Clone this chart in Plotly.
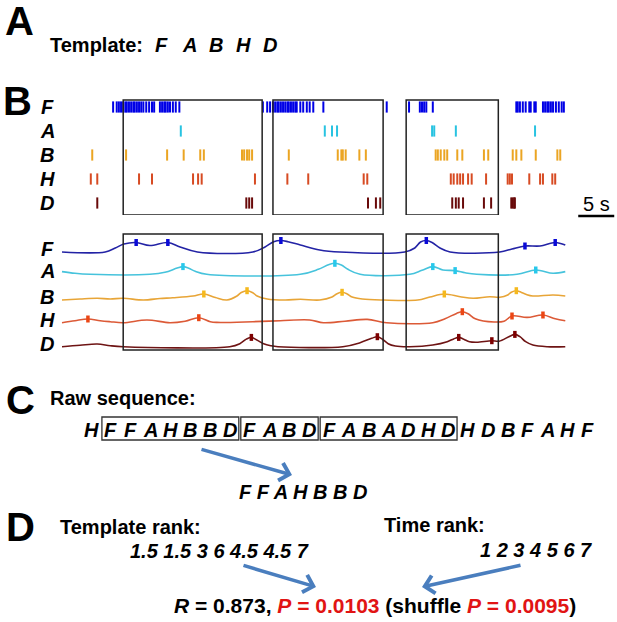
import plotly.graph_objects as go

W, H = 617, 622

# ---------------- data ----------------
neurons = ["F", "A", "B", "H", "D"]
template = ["F", "A", "B", "H", "D"]

# spike times (s)
spikes_F = [7.1, 7.6, 7.9, 8.2, 8.5, 8.8, 9.0, 9.3, 9.6, 9.9, 10.1, 10.4, 10.7, 11.0, 11.3, 11.7, 12.1,
            12.5, 12.8, 13.6, 13.9, 14.2, 14.4, 14.7, 15.0, 15.4, 15.8, 16.3,
            27.9, 28.5, 28.9, 29.3, 29.6, 29.9, 30.1, 30.4, 30.7, 31.0, 31.3, 31.5, 31.8, 32.1, 32.4,
            32.6, 33.1, 33.5, 34.0, 34.4, 34.9, 36.3,
            45.1, 48.2, 49.7, 50.0, 50.3, 50.6, 51.5,
            63.1, 63.3, 63.6, 64.0, 64.4, 64.9, 65.1, 65.6, 65.8, 66.8, 67.1, 67.4, 67.6, 67.9, 68.2,
            68.6, 69.0, 69.4, 69.7]
spikes_A = [16.5, 36.5, 37.5, 38.2, 51.4, 51.7, 54.7, 65.7]
spikes_B = [4.2, 8.9, 14.6, 16.9, 19.2, 19.7, 25.0, 25.3, 25.7, 26.0, 26.4, 31.5, 38.3, 38.8, 39.0, 39.4,
            41.3, 42.2, 51.9, 52.2, 52.6, 53.1, 53.5, 54.9, 55.6, 58.6, 59.2, 62.6, 63.1, 63.8, 65.8,
            68.8, 69.2]
spikes_H = [4.0, 4.9, 10.7, 12.5, 18.2, 18.9, 19.4, 26.8, 31.3, 34.2, 41.9, 42.4, 54.0, 54.4, 54.9, 55.3,
            55.7, 56.4, 56.9, 58.9, 61.9, 62.2, 62.5, 64.9, 66.4, 66.8, 68.1, 68.5]
spikes_D = [4.9, 25.6, 26.0, 26.4, 42.5, 43.6, 44.2, 54.2, 54.7, 55.1, 55.7, 58.6, 59.6, 62.4, 62.6,
            62.8, 62.9]

# smoothed activity (a.u.) sampled in time (s)
rate_F_t = [0.0, 6.0, 7.4, 8.6, 10.3, 12.2, 14.7, 16.4, 18.8, 26.5, 28.2, 29.4, 30.4, 31.4, 33.1, 35.8,
            38.6, 47.6, 49.0, 49.8, 50.6, 51.4, 52.5, 53.9, 60.8, 62.5, 64.3, 66.4, 68.5, 69.9]
rate_F_v = [0, 0, 4, 8, 9.5, 6.5, 9.5, 5, 0, 0, 5, 10.3, 11.5, 10.3, 7, 2, 0, 0, 4, 10, 11.5, 9.5, 4, 0,
            0, 3, 6, 6, 9.5, 7]
rate_A_t = [0.0, 1.8, 3.9, 12.2, 14.3, 16.0, 16.8, 17.6, 18.5, 20.1, 33.1, 35.6, 37.0, 37.9, 38.8, 39.7,
            41.4, 48.3, 50.0, 51.5, 52.9, 54.6, 56.0, 57.6, 63.2, 65.8, 68.2, 69.9]
rate_A_v = [2.7, 1, 0, 0, 2, 6.2, 7.7, 6, 3, 0, 0, 5, 9.5, 11, 9.3, 5, 0, 0, 4, 7.7, 4.3, 3.7, 1.5, 0,
            0, 4.3, 1, 2.7]
rate_B_t = [0.0, 2.5, 4.9, 6.7, 8.5, 11.3, 13.6, 15.4, 18.2, 19.7, 21.3, 22.9, 24.3, 24.9, 25.7, 26.5,
            27.1, 28.5, 31.0, 33.1, 35.8, 37.5, 38.2, 38.9, 39.6, 40.3, 41.7, 44.6, 49.4, 51.1, 53.1,
            55.3, 57.1, 59.4, 60.8, 61.9, 62.4, 63.1, 63.8, 64.5, 65.4, 68.2, 69.9]
rate_B_v = [0, 1, 1.7, 1, 1.7, 0, 1.5, 2.3, 4, 6, 2.5, 0, 4, 7.5, 9.3, 7.3, 4, 1, 0, 0.7, 0, 3, 6.3,
            7.7, 6.1, 3, 1, 0, 0, 3, 6, 3.3, 1.7, 3.3, 2.7, 5, 7.8, 9.3, 7.6, 5.5, 4, 5, 4]
rate_H_t = [0.0, 1.8, 3.6, 5.3, 6.7, 8.5, 11.8, 15.0, 17.1, 19.0, 20.6, 21.5, 26.5, 30.3, 34.4, 36.3,
            39.3, 42.4, 45.1, 51.5, 53.2, 54.8, 55.6, 56.4, 57.4, 60.0, 61.4, 62.5, 64.6, 66.8, 68.5,
            69.9]
rate_H_v = [0, 2, 3.7, 2, 1, 0, 2.7, 0, 1.5, 5, 1, 0.3, 1, 2, 2.7, 0, 1.5, 3.3, 0, 0, 4, 9.3, 11, 9.0,
            4, 0.7, 1.5, 6.7, 5.3, 7.7, 4, 2]
rate_D_t = [0.0, 2.5, 4.9, 6.7, 8.5, 23.3, 24.7, 25.6, 26.3, 27.0, 28.0, 29.0, 30.0, 39.0, 41.4, 43.0,
            43.8, 44.5, 45.3, 46.3, 48.3, 51.5, 53.5, 54.4, 55.1, 55.8, 56.6, 57.6, 59.7, 60.7, 62.2,
            62.9, 63.6, 64.4, 65.4, 67.4, 69.9]
rate_D_v = [0, 1.5, 2.7, 1, 0, 0, 3, 7.6, 9.3, 7.0, 3, 1, 0, 0, 4, 8.4, 10, 7.5, 3, 0.7, 0, 1.7, 5, 7.8,
            9.3, 7.5, 5, 4.5, 6, 5.5, 10.5, 12.3, 10, 5, 1.7, 0, 0]

# detected peaks (s, a.u.)
peak_F_t = [10.3, 14.7, 30.4, 50.6, 64.3, 68.5]
peak_F_v = [9.5, 9.5, 11.5, 11.5, 6, 9.5]
peak_A_t = [16.8, 37.9, 51.5, 54.6, 65.8]
peak_A_v = [7.7, 11, 7.7, 3.7, 4.3]
peak_B_t = [19.7, 25.7, 38.9, 53.1, 63.1]
peak_B_v = [6, 9.3, 7.7, 6, 9.3]
peak_H_t = [3.6, 19.0, 55.6, 62.5, 66.8]
peak_H_v = [3.7, 5, 11, 6.7, 7.7]
peak_D_t = [26.3, 43.8, 55.1, 59.7, 62.9]
peak_D_v = [9.3, 10, 9.3, 6, 12.3]

# sequence windows (s)
window_start = [8.5, 29.3, 47.8]
window_end = [27.8, 44.6, 60.6]
scale_bar_s = 5

raw_sequence = ["H", "F", "F", "A", "H", "B", "B", "D", "F", "A", "B", "D", "F", "A", "B", "A", "D",
                "H", "D", "H", "D", "B", "F", "A", "H", "F"]
seq_window_first = [1, 8, 12]
seq_window_last = [7, 11, 18]
extracted_sequence = ["F", "F", "A", "H", "B", "B", "D"]
template_rank = [1.5, 1.5, 3, 6, 4.5, 4.5, 7]
time_rank = [1, 2, 3, 4, 5, 6, 7]
R_value = 0.873
P_value = 0.0103
shuffle_P = 0.0095

# ---------------- styling ----------------
FONT = "Liberation Sans, Arial, sans-serif"
raster_color = ["rgb(0,0,230)", "rgb(40,195,225)", "rgb(235,165,35)", "rgb(215,75,35)", "rgb(105,10,10)"]
line_color = ["rgb(35,35,165)", "rgb(70,195,220)", "rgb(232,165,55)", "rgb(220,90,55)", "rgb(110,20,20)"]
peak_color = ["rgb(10,10,215)", "rgb(40,200,235)", "rgb(245,185,30)", "rgb(235,70,20)", "rgb(125,0,0)"]
row_offset = [0, -22.3, -48, -70.7, -94.7]

spikes = [spikes_F, spikes_A, spikes_B, spikes_H, spikes_D]
rates = [(rate_F_t, rate_F_v), (rate_A_t, rate_A_v), (rate_B_t, rate_B_v), (rate_H_t, rate_H_v),
         (rate_D_t, rate_D_v)]
peaks = [(peak_F_t, peak_F_v), (peak_A_t, peak_A_v), (peak_B_t, peak_B_v), (peak_H_t, peak_H_v),
         (peak_D_t, peak_D_v)]


def px(x):
    return x / W


def py(y):
    return 1 - y / H


fig = go.Figure()

for r, name in enumerate(neurons):
    fig.add_trace(go.Scatter(
        x=spikes[r], y=[r] * len(spikes[r]), mode="markers", xaxis="x", yaxis="y",
        marker=dict(symbol="line-ns", size=8, line=dict(color=raster_color[r], width=2.0)),
        showlegend=False, hoverinfo="skip"))

for r, name in enumerate(neurons):
    t, v = rates[r]
    fig.add_trace(go.Scatter(
        x=t, y=[row_offset[r] + a for a in v], mode="lines", xaxis="x", yaxis="y2",
        line=dict(color=line_color[r], width=1.6, shape="spline", smoothing=1.0),
        showlegend=False, hoverinfo="skip"))
    pt, pv = peaks[r]
    fig.add_trace(go.Scatter(
        x=pt, y=[row_offset[r] + a for a in pv], mode="markers", xaxis="x", yaxis="y2",
        marker=dict(symbol="line-ns", size=5, line=dict(color=peak_color[r], width=3.5)),
        showlegend=False, hoverinfo="skip"))

shapes = []
for s, e in zip(window_start, window_end):
    shapes.append(dict(type="rect", xref="x", yref="y", x0=s, x1=e, y0=-0.29, y1=4.5,
                       line=dict(color="#222", width=1.5)))
    shapes.append(dict(type="rect", xref="x", yref="y2", x0=s, x1=e, y0=-98, y1=18,
                       line=dict(color="#222", width=1.5)))
# scale bar
shapes.append(dict(type="line", xref="x", yref="paper", x0=71.7, x1=71.7 + scale_bar_s,
                   y0=py(216), y1=py(216), line=dict(color="black", width=2.5)))
# sequence boxes
for a, b in zip(seq_window_first, seq_window_last):
    shapes.append(dict(type="rect", xref="x2", yref="paper", x0=a - 0.45, x1=b + 0.45,
                       y0=py(440), y1=py(417), line=dict(color="#333", width=1.3)))

ann = []


def text(x, y, s, size=20, anchor="left", color="black", weight="bold", xref="paper", yref="paper"):
    ann.append(dict(x=x, y=y, xref=xref, yref=yref, text=s, showarrow=False, xanchor=anchor,
                    yanchor="middle", font=dict(family=FONT, size=size, color=color, weight=weight)))


# panel letters
text(px(19), py(21), "A", size=40, anchor="center")
text(px(17), py(101), "B", size=40, anchor="center")
text(px(20), py(400), "C", size=40, anchor="center")
text(px(20), py(527), "D", size=40, anchor="center")

# panel A
text(px(48), py(45), "Template:", size=20)
for i, n in enumerate(template):
    text(px(162 + 27 * i), py(45), "<i>%s</i>" % n, size=20, anchor="center")

# row labels
for r, n in enumerate(neurons):
    text(px(47), r, "<i>%s</i>" % n, size=20, anchor="center", yref="y")
    text(px(47), row_offset[r] + 3, "<i>%s</i>" % n, size=20, anchor="center", yref="y2")

# scale bar label
text(px(596), py(204), "%d s" % scale_bar_s, size=20, anchor="center", weight="normal")

# panel C
text(px(48), py(398), "Raw sequence:", size=20)
for i, letter in enumerate(raw_sequence):
    text(i, py(430), "<i>%s</i>" % letter, size=20, anchor="center", xref="x2")
text(px(303), py(492), "<i>%s</i>" % " ".join(extracted_sequence), size=20, anchor="center")

# panel D
text(px(58), py(527), "Template rank:", size=20)
text(px(382), py(525), "Time rank:", size=20)
text(px(128), py(551), "<i>%s</i>" % " ".join("%g" % v for v in template_rank), size=20)
text(px(478), py(550), "<i>%s</i>" % " ".join("%g" % v for v in time_rank), size=20)
result = ("<i>R</i> = %.3f, <span style='color:rgb(225,20,20)'><i>P</i> = %.4f</span> "
          "(shuffle <span style='color:rgb(225,20,20)'><i>P</i> = %.4f</span>)"
          % (R_value, P_value, shuffle_P))
text(px(375), py(605), result, size=21, anchor="center")

# arrows
ARROW = "rgb(74,126,190)"


def arrow(x0, y0, x1, y1):
    ann.append(dict(x=px(x1), y=py(y1), xref="paper", yref="paper", text="", showarrow=True,
                    ax=x0 - x1, ay=y0 - y1, arrowhead=4, arrowsize=1, arrowwidth=3.5,
                    arrowcolor=ARROW))


arrow(200, 449, 292, 475)
arrow(242, 565, 316, 587)
arrow(522, 565, 422, 587)

hidden = dict(visible=False, showgrid=False, zeroline=False, fixedrange=True)
seq_step = 19.84
fig.update_layout(
    width=W, height=H, margin=dict(l=0, r=0, t=0, b=0),
    paper_bgcolor="white", plot_bgcolor="rgba(0,0,0,0)", showlegend=False,
    xaxis=dict(domain=[0, 1], range=[-62 / 7.2, 555 / 7.2], anchor="y", **hidden),
    yaxis=dict(domain=[py(215), py(95)], range=[4.5, -0.5], anchor="x", **hidden),
    yaxis2=dict(domain=[py(355), py(230)], range=[-103, 22], anchor="x", **hidden),
    xaxis2=dict(domain=[0, 1], range=[-91 / seq_step, (W - 91) / seq_step], anchor="y3", **hidden),
    yaxis3=dict(domain=[0, 1], range=[0, 1], anchor="x2", **hidden),
    shapes=shapes, annotations=ann,
)

fig.write_html("out.html", config={"displayModeBar": False},
               post_script="document.body.style.margin='0';document.body.style.overflow='hidden';")
